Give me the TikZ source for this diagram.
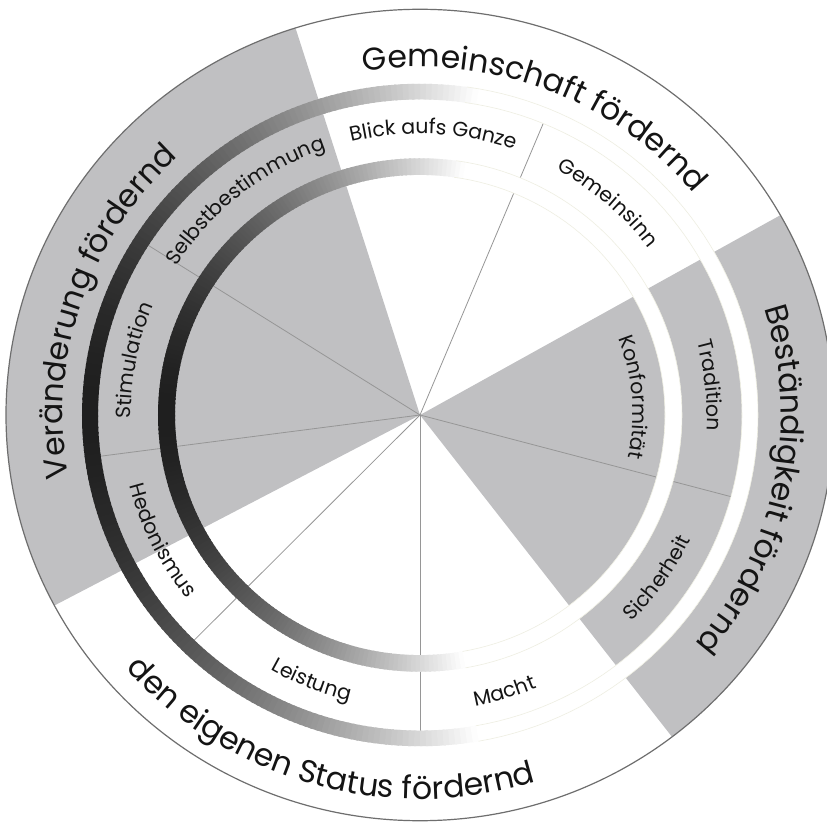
\documentclass[tikz,border=0pt]{standalone}
\usepackage{fontspec}
\setmainfont{Poppins}
\usetikzlibrary{decorations.text}
\definecolor{sgray}{RGB}{192,192,194}
\definecolor{divline}{RGB}{150,150,150}
\definecolor{rimline}{RGB}{110,110,110}
\definecolor{faint}{RGB}{238,238,226}
\definecolor{txt}{RGB}{20,20,20}
\newcommand\TopLab[5]{\path[decorate,decoration={text along path,text align=center,text color=txt,text={|\fontsize{#4}{#4}\selectfont|#5}}] ({#1+#3}:#2) arc[start angle={#1+#3},end angle={#1-#3},x radius=#2pt,y radius={0.98*#2pt}];}
\newcommand\BotLab[5]{\path[decorate,decoration={text along path,text align=center,text color=txt,text={|\fontsize{#4}{#4}\selectfont|#5}}] ({#1-#3}:#2) arc[start angle={#1-#3},end angle={#1+#3},x radius=#2pt,y radius={0.98*#2pt}];}
\begin{document}
\begin{tikzpicture}[x=1pt,y=0.98pt]
\useasboundingbox (-420pt,-409pt) rectangle (407pt,415pt);
\clip (-420pt,-409pt) rectangle (407pt,415pt);
\fill[white] (-420pt,-409pt) rectangle (407pt,415pt);
\fill[white] (0,0) ellipse[x radius=414pt, y radius=405.72pt];
% gray wedges
\fill[sgray] (0,0) -- plot[domain=107.5:208, samples=120] (\x:414) -- cycle;
\fill[sgray] (0,0) -- plot[domain=-52.5:29.5, samples=100] (\x:414) -- cycle;
% division lines
\foreach \a in {67.5,147.5,187.5,225.5,270,345} \draw[divline, line width=0.8pt] (0,0) -- (\a:330);
% gradient rings
\foreach \a in {0,...,359}{
  \pgfmathsetmacro\d{abs(\a+0.5-180)}
  \pgfmathsetmacro\w{100*(0.12+0.88*(min(1,\d/100))^1.8)}
  \fill[white!\w!black] (\a:245) -- ({\a+1.4}:245) -- ({\a+1.4}:262) -- (\a:262) -- cycle;
  \fill[white!\w!black] (\a:322) -- ({\a+1.4}:322) -- ({\a+1.4}:338) -- (\a:338) -- cycle;
}
\foreach \r in {245,262,322,338} \draw[faint, line width=0.6pt] plot[domain=-80:82, samples=80] (\x:\r);
\draw[rimline, line width=1.2pt] (0,0) ellipse[x radius=414pt, y radius=405.72pt];
% outer labels
\TopLab{69.25}{355}{45}{31.5}{Gemeinschaft fördernd}
\TopLab{161.5}{357}{45}{31.5}{Veränderung fördernd}
\TopLab{-11.3}{361}{45}{31.5}{Beständigkeit fördernd}
\BotLab{254.2}{392}{50}{31.5}{den eigenen Status fördernd}
% segment labels
\TopLab{87.3}{287}{30}{20.5}{Blick aufs Ganze}
\TopLab{128.7}{287}{30}{20.5}{Selbstbestimmung}
\TopLab{169}{289}{20}{20.5}{Stimulation}
\BotLab{206.4}{299}{20}{20.5}{Hedonismus}
\BotLab{248.2}{300}{20}{20.5}{Leistung}
\BotLab{286.7}{302}{20}{20.5}{Macht}
\BotLab{325}{299}{20}{20.5}{Sicherheit}
\TopLab{4.8}{213}{25}{20.5}{Konformität}
\TopLab{5.9}{287}{20}{20.5}{Tradition}
\TopLab{49}{285}{20}{20.5}{Gemeinsinn}
\end{tikzpicture}
\end{document}
